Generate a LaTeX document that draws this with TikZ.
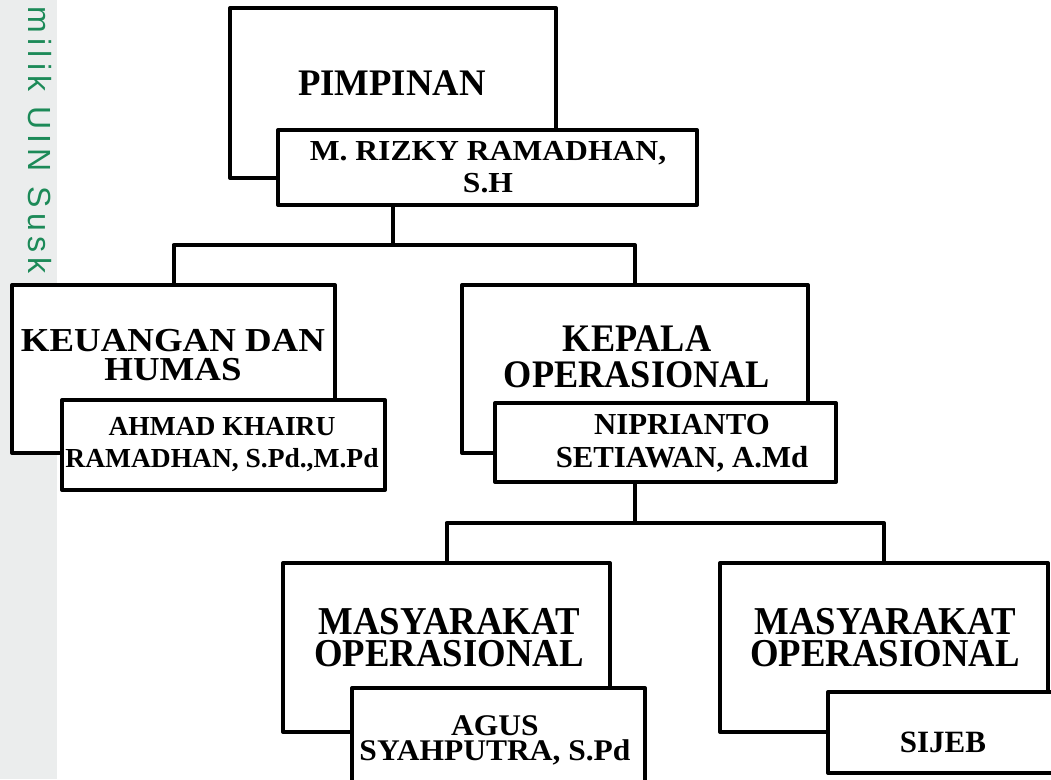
\documentclass[tikz,border=0pt]{standalone}
\usepackage{fontspec}
\setmainfont{Liberation Serif}
\newfontfamily\marksans{Liberation Sans}
\definecolor{uingreen}{RGB}{28,138,88}
\definecolor{stripgray}{RGB}{235,237,237}
\newcommand\boxfont[3]{\fontsize{#1}{#2}\selectfont\bfseries\addfontfeature{FakeStretch=#3}}
\tikzset{
  rolebox/.style={draw, line width=4pt, fill=white, line join=round, inner sep=0pt},
  namebox/.style={rolebox},
  conn/.style={line width=4pt, line join=round},
  roletext/.style={align=center, inner sep=0pt, font=\boxfont{36.5}{30}{1}},
  nametext/.style={align=center, inner sep=0pt, font=\boxfont{31}{32}{1}},
}
\begin{document}
\begin{tikzpicture}[x=1pt,y=-1pt]
\useasboundingbox (0,0) rectangle (1051,779);
\clip (0,0) rectangle (1051,779);
% side mark
\fill[stripgray] (0,0) rectangle (57,779);
\node[rotate=-90, text=uingreen, inner sep=0pt,
  font=\marksans\fontsize{32}{32}\selectfont\addfontfeature{LetterSpace=17}] (mark) at (40,140) {milik UIN Susk};
% pimpinan
\node[rolebox, minimum width=326pt, minimum height=170pt] (pim) at (393,93) {};
\node[roletext, anchor=base, font=\boxfont{37.5}{30}{0.98}] (pim-t) at (392,95) {PIMPINAN};
\node[namebox, minimum width=419pt, minimum height=75pt] (pimname) at (487.5,167.5) {};
\node[nametext, font=\boxfont{29}{32}{1.09}] (pimname-t) at (488,167) {M. RIZKY RAMADHAN,\\S.H};
% second level
\node[rolebox, minimum width=323pt, minimum height=168pt] (keu) at (173.5,369) {};
\node[roletext, font=\boxfont{33.5}{29}{1.1}] (keu-t) at (173,355) {KEUANGAN DAN\\HUMAS};
\node[namebox, minimum width=323pt, minimum height=90pt] (keuname) at (223.5,445) {};
\node[nametext, font=\boxfont{27.5}{32}{1}] (keuname-t) at (222,445) {AHMAD KHAIRU\\RAMADHAN, S.Pd.,M.Pd};
\node[rolebox, minimum width=346pt, minimum height=168pt] (kop) at (635,369) {};
\node[roletext, font=\boxfont{39}{36}{0.93}] (kop-t) at (637,357) {KEPALA\\OPERASIONAL};
\node[namebox, minimum width=341pt, minimum height=79pt] (kopname) at (665.5,442.5) {};
\node[nametext, font=\boxfont{30.5}{33}{1.01}] (kopname-t) at (682,443) {NIPRIANTO\\SETIAWAN, A.Md};
% third level
\node[rolebox, minimum width=327pt, minimum height=169pt] (mas1) at (446.5,647.5) {};
\node[roletext, font=\boxfont{39.5}{32}{0.93}] (mas1-t) at (449,638) {MASYARAKAT\\OPERASIONAL};
\node[namebox, minimum width=293pt, minimum height=102pt] (mas1name) at (498.5,739) {};
\node[nametext, font=\boxfont{30}{25}{1.05}] (mas1name-t) at (495,740) {AGUS\\SYAHPUTRA, S.Pd};
\node[rolebox, minimum width=328pt, minimum height=169pt] (mas2) at (884,647.5) {};
\node[roletext, font=\boxfont{39.5}{32}{0.93}] (mas2-t) at (885,638) {MASYARAKAT\\OPERASIONAL};
\node[namebox, minimum width=232pt, minimum height=81pt] (mas2name) at (944,732.5) {};
\node[nametext, anchor=base] (mas2name-t) at (943,752) {SIJEB};
% connectors
\coordinate (j1) at (393,245);
\draw[conn] (pimname.south -| pim.south) -- (j1);
\draw[conn] (keu.north) |- (j1) -| (kop.north);
\coordinate (j2) at (635,523);
\draw[conn] (kopname.south -| kop.south) -- (j2);
\draw[conn] (mas1.north) |- (j2) -| (mas2.north);
\end{tikzpicture}
\end{document}
